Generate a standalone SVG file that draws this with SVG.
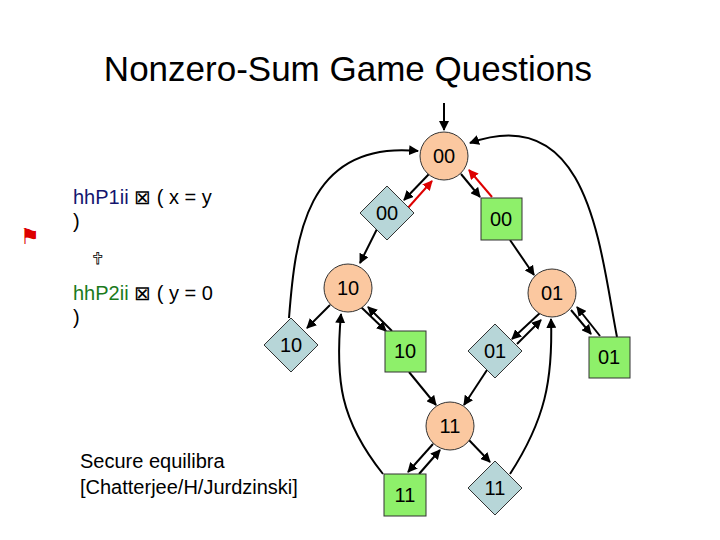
<svg xmlns="http://www.w3.org/2000/svg" width="720" height="540" viewBox="0 0 720 540">
<defs>
<marker id="ab" viewBox="0 0 10 10" refX="9" refY="5" markerWidth="5" markerHeight="5" orient="auto"><path d="M0,0L10,5L0,10z" fill="#000"/></marker>
<marker id="ar" viewBox="0 0 10 10" refX="9" refY="5" markerWidth="5" markerHeight="5" orient="auto"><path d="M0,0L10,5L0,10z" fill="#d00"/></marker>
</defs>
<style>
text{font-family:"Liberation Sans",Arial,sans-serif}
.c{fill:#fbc8a0;stroke:#333;stroke-width:1}
.d{fill:#b7d6d8;stroke:#333;stroke-width:1}
.s{fill:#8ef06a;stroke:#333;stroke-width:1}
.l{font-size:20px;text-anchor:middle}
.e{fill:none;stroke:#000;stroke-width:2;marker-end:url(#ab)}
.r{fill:none;stroke:#d00;stroke-width:2;marker-end:url(#ar)}
.t{font-size:20px}
</style>
<rect width="720" height="540" fill="#fff"/>
<text x="348" y="81" font-size="35" text-anchor="middle">Nonzero-Sum Game Questions</text>
<g id="legend">
<text x="73" y="204" class="t"><tspan fill="#14146e">hhP1ii</tspan> ⊠ ( x = y</text>
<text x="73" y="228" class="t">)</text>
<text x="30" y="244" font-size="22" fill="#d00" text-anchor="middle">⚑</text>
<text x="97" y="264" font-size="16" fill="#fff" stroke="#000" stroke-width="0.8" text-anchor="middle">✝</text>
<text x="73" y="300" class="t"><tspan fill="#1b7a1b">hhP2ii</tspan> ⊠ ( y = 0</text>
<text x="73" y="324" class="t">)</text>
<text x="80" y="468" class="t">Secure equilibra</text>
<text x="80" y="494" class="t">[Chatterjee/H/Jurdzinski]</text>
</g>
<g id="connectors">
<line x1="444" y1="103" x2="444" y2="130" class="e"/>
<line x1="429" y1="174" x2="404" y2="200" class="e"/>
<line x1="407" y1="209" x2="432" y2="181" class="r"/>
<line x1="461" y1="174" x2="480" y2="197" class="e"/>
<line x1="492" y1="197" x2="469" y2="170" class="r"/>
<line x1="377" y1="229" x2="360" y2="263" class="e"/>
<line x1="510" y1="240" x2="534" y2="275" class="e"/>
<path d="M289,318 C295,240 305,140 418,151" class="e"/>
<path d="M617,337 C600,250 590,100 470,143" class="e"/>
<line x1="330" y1="305" x2="307" y2="328" class="e"/>
<line x1="361" y1="307" x2="386" y2="331" class="e"/>
<line x1="392" y1="331" x2="368" y2="307" class="e"/>
<line x1="541" y1="312" x2="512" y2="339" class="e"/>
<line x1="517" y1="344" x2="541" y2="320" class="e"/>
<line x1="571" y1="310" x2="591" y2="334" class="e"/>
<line x1="600" y1="336" x2="577" y2="307" class="e"/>
<line x1="409" y1="372" x2="436" y2="405" class="e"/>
<line x1="487" y1="370" x2="464" y2="405" class="e"/>
<line x1="433" y1="444" x2="408" y2="472" class="e"/>
<line x1="419" y1="474" x2="440" y2="450" class="e"/>
<line x1="468" y1="439" x2="490" y2="462" class="e"/>
<path d="M383,474 C340,420 335,380 341,314" class="e"/>
<path d="M510,474 C545,420 553,380 551,319" class="e"/>
</g>
<g id="n00"><circle cx="444" cy="156" r="24" class="c"/><text x="444" y="163" class="l">00</text></g>
<g id="d00"><polygon points="387,186 414,213 387,240 360,213" class="d"/><text x="387" y="220" class="l">00</text></g>
<g id="s00"><rect x="481" y="198" width="41" height="42" class="s"/><text x="501" y="226" class="l">00</text></g>
<g id="n10"><circle cx="348" cy="288" r="24" class="c"/><text x="348" y="295" class="l">10</text></g>
<g id="n01"><circle cx="552" cy="293" r="24" class="c"/><text x="552" y="300" class="l">01</text></g>
<g id="d10"><polygon points="291,318 318,345 291,372 264,345" class="d"/><text x="291" y="352" class="l">10</text></g>
<g id="s10"><rect x="385" y="331" width="41" height="41" class="s"/><text x="405" y="358" class="l">10</text></g>
<g id="d01"><polygon points="495,324 522,351 495,378 468,351" class="d"/><text x="495" y="358" class="l">01</text></g>
<g id="s01"><rect x="589" y="337" width="41" height="41" class="s"/><text x="609" y="364" class="l">01</text></g>
<g id="n11"><circle cx="450" cy="426" r="24" class="c"/><text x="450" y="433" class="l">11</text></g>
<g id="s11"><rect x="384" y="474" width="42" height="42" class="s"/><text x="405" y="502" class="l">11</text></g>
<g id="d11"><polygon points="495,461 522,488 495,515 468,488" class="d"/><text x="495" y="495" class="l">11</text></g>
</svg>
